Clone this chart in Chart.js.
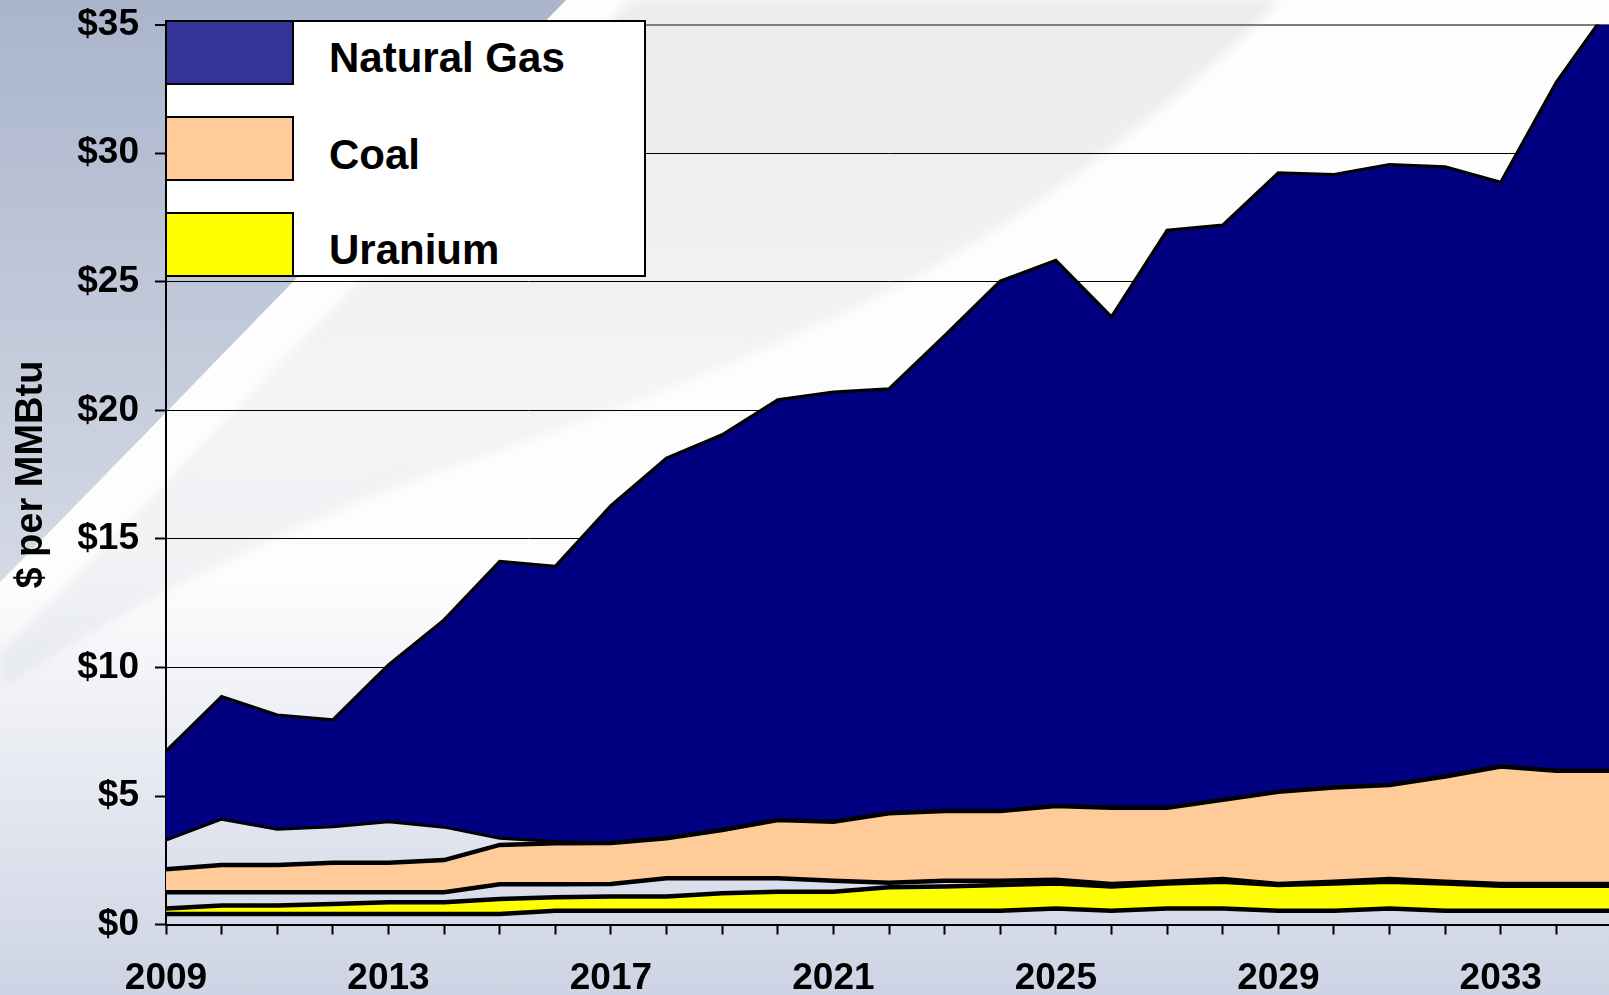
<!DOCTYPE html>
<html>
<head>
<meta charset="utf-8">
<script src="https://cdn.jsdelivr.net/npm/chart.js@4/dist/chart.umd.min.js"></script>
<style>
  html, body { margin: 0; padding: 0; width: 1609px; height: 995px; overflow: hidden; }
  body { font-family: "Liberation Sans", Arial, sans-serif; background: #fdfdfd; }
  #bg { position: absolute; left: 0; top: 0; }
  #wrap { position: absolute; left: 0; top: 0; width: 1612px; height: 995px; }
  #legend { position: absolute; left: 165px; top: 20px; width: 481px; height: 257px; background: #fff; border: 2px solid #000; box-sizing: border-box; }
  .sw { position: absolute; left: 165px; width: 129px; height: 65px; border: 2px solid #000; box-sizing: border-box; }
  .lb { position: absolute; left: 329px; font: bold 42px "Liberation Sans", Arial, sans-serif; line-height: 42px; color: #000; white-space: nowrap; }
</style>
</head>
<body>
<svg id="bg" width="1609" height="995" xmlns="http://www.w3.org/2000/svg">
  <defs>
    <linearGradient id="wedge" x1="0" y1="0" x2="0" y2="1">
      <stop offset="0" stop-color="#aab5cc"/>
      <stop offset="1" stop-color="#d4d9e4"/>
    </linearGradient>
    <linearGradient id="band" gradientUnits="userSpaceOnUse" x1="0" y1="0" x2="0" y2="700">
      <stop offset="0" stop-color="#eaebed"/>
      <stop offset="0.55" stop-color="#f3f4f5"/>
      <stop offset="1" stop-color="#eef0f3"/>
    </linearGradient>
    <linearGradient id="bottom" x1="0" y1="0" x2="0" y2="1">
      <stop offset="0.58" stop-color="#cdd3e4" stop-opacity="0"/>
      <stop offset="1" stop-color="#cbd1e3" stop-opacity="0.95"/>
    </linearGradient>
    <filter id="soft" x="-10%" y="-10%" width="120%" height="120%">
      <feGaussianBlur stdDeviation="6"/>
    </filter>
  </defs>
  <rect width="1609" height="995" fill="#fdfdfd"/>
  <path d="M 632 0 L 1280 0 C 1150 130 1000 235 880 295 C 760 355 620 410 470 460 C 300 520 150 590 0 690 L 0 655 C 160 490 400 235 632 0 Z" fill="url(#band)" filter="url(#soft)"/>
  <path d="M 0 0 L 566 0 C 400 170 180 400 0 582 Z" fill="url(#wedge)"/>
  <rect width="1609" height="995" fill="url(#bottom)"/>
</svg>
<div id="wrap"><canvas id="c"></canvas></div>
<div id="legend"></div>
<div class="sw" style="top:20px; background:#333399;"></div>
<div class="lb" style="top:37px;">Natural Gas</div>
<div class="sw" style="top:116px; background:#FFCC99;"></div>
<div class="lb" style="top:134px;">Coal</div>
<div class="sw" style="top:212px; background:#FFFF00;"></div>
<div class="lb" style="top:229px;">Uranium</div>
<script>
const years = ['2009','2010','2011','2012','2013','2014','2015','2016','2017','2018','2019','2020','2021','2022','2023','2024','2025','2026','2027','2028','2029','2030','2031','2032','2033','2034','2035'];
const gasHigh = [6.75, 8.87, 8.15, 7.96, 10.1, 11.85, 14.12, 13.93, 16.29, 18.14, 19.05, 20.41, 20.71, 20.83, 22.9, 25.02, 25.83, 23.63, 27.0, 27.2, 29.23, 29.17, 29.56, 29.47, 28.87, 32.76, 35.8];
const gasLow = [3.29, 4.10, 3.71, 3.81, 4.00, 3.79, 3.36, 3.23, 3.16, 3.30, 3.50, 3.80, 3.80, 4.00, 4.10, 4.20, 4.30, 4.30, 4.40, 4.60, 4.80, 5.00, 5.10, 5.30, 5.60, 5.60, 5.60];
const coalHigh = [2.15, 2.32, 2.32, 2.41, 2.41, 2.51, 3.10, 3.16, 3.17, 3.36, 3.68, 4.07, 4.00, 4.33, 4.42, 4.42, 4.61, 4.54, 4.54, 4.85, 5.17, 5.33, 5.43, 5.76, 6.15, 5.98, 5.98];
const coalLow = [1.26, 1.26, 1.26, 1.26, 1.26, 1.26, 1.57, 1.57, 1.58, 1.80, 1.80, 1.80, 1.71, 1.63, 1.71, 1.71, 1.74, 1.58, 1.67, 1.77, 1.58, 1.67, 1.77, 1.67, 1.58, 1.58, 1.58];
const uraniumHigh = [0.63, 0.74, 0.74, 0.80, 0.87, 0.87, 1.00, 1.06, 1.09, 1.09, 1.22, 1.28, 1.28, 1.45, 1.48, 1.54, 1.60, 1.48, 1.60, 1.67, 1.54, 1.60, 1.67, 1.60, 1.51, 1.51, 1.51];
const uraniumLow = [0.41, 0.41, 0.41, 0.41, 0.41, 0.41, 0.41, 0.54, 0.54, 0.54, 0.54, 0.54, 0.54, 0.54, 0.54, 0.54, 0.63, 0.54, 0.63, 0.63, 0.54, 0.54, 0.63, 0.54, 0.54, 0.54, 0.54];
const yTicks = [0, 5, 10, 15, 20, 25, 30, 35];
const xLabelEvery = 4;

const FONT = '"Liberation Sans", Arial, sans-serif';
function line(data, width) {
  return { data, borderColor: '#000', borderWidth: width, pointRadius: 0, tension: 0, fill: false };
}
function band(data, color, width) {
  return { data, borderColor: '#000', borderWidth: width, pointRadius: 0, tension: 0, backgroundColor: color, fill: '-1' };
}

new Chart(document.getElementById('c'), {
  type: 'line',
  data: {
    labels: years,
    datasets: [
      line(uraniumLow, 4.5),
      band(uraniumHigh, '#FFFF00', 4.5),
      line(coalLow, 4.5),
      band(coalHigh, '#FFCC99', 4.5),
      line(gasLow, 3),
      band(gasHigh, '#000080', 3.2)
    ]
  },
  options: {
    responsive: true,
    maintainAspectRatio: false,
    animation: false,
    layout: { padding: { top: 24.6, right: 0, left: 0, bottom: 0 } },
    plugins: { legend: { display: false }, tooltip: { enabled: false } },
    scales: {
      x: {
        type: 'category',
        offset: false,
        afterFit: s => { s.height = 70.4; s.paddingLeft = 0; s.paddingRight = 0; },
        grid: { drawOnChartArea: false, drawTicks: true, tickLength: 10, tickColor: '#000', tickWidth: 2 },
        border: { color: '#000', width: 2 },
        ticks: {
          autoSkip: false, maxRotation: 0, padding: 22, color: '#000',
          font: { family: FONT, size: 37, weight: 'bold' },
          callback: function(v, i) { return i % xLabelEvery === 0 ? years[i] : ''; }
        }
      },
      y: {
        min: yTicks[0], max: yTicks[yTicks.length - 1],
        afterFit: s => { s.width = 166; s.paddingTop = 0; s.paddingBottom = 0; },
        afterBuildTicks: s => { s.ticks = yTicks.map(v => ({ value: v })); },
        grid: { color: ctx => (ctx.tick && ctx.tick.value === 35) ? '#7f7f7f' : '#000', lineWidth: ctx => (ctx.tick && ctx.tick.value === 35) ? 2 : 1, tickLength: 11, tickColor: '#000', tickWidth: 2 },
        border: { color: '#000', width: 2 },
        title: { display: true, text: '$ per MMBtu', color: '#000', font: { family: FONT, size: 38, weight: 'bold' }, padding: { top: 9, bottom: 0 } },
        ticks: {
          padding: 16, color: '#000',
          font: { family: FONT, size: 37, weight: 'bold' },
          callback: v => '$' + v
        }
      }
    }
  }
});
</script>
</body>
</html>
